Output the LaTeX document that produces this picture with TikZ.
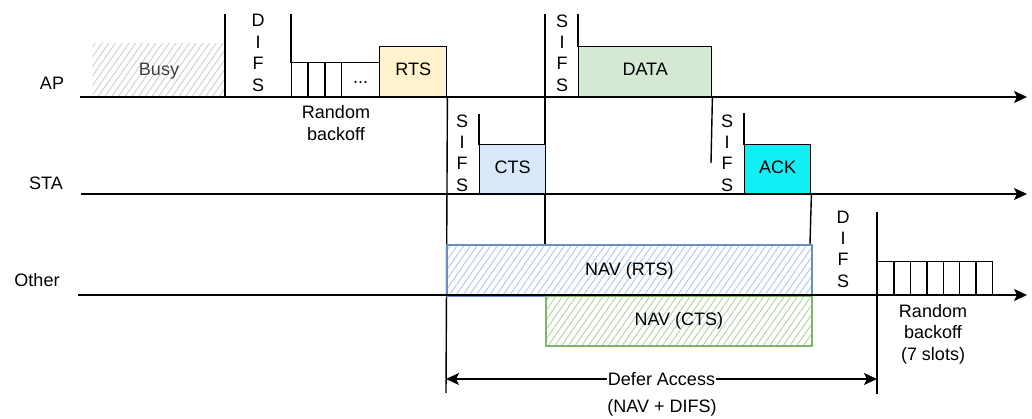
\documentclass[tikz,border=0pt]{standalone}
\usepackage{fontspec}
\setmainfont{Liberation Sans}
\usetikzlibrary{arrows.meta,patterns.meta}

\definecolor{rtsfill}{HTML}{FFF2CC}
\definecolor{ctsfill}{HTML}{DAE8FC}
\definecolor{datafill}{HTML}{D5E8D4}
\definecolor{ackfill}{HTML}{10EEF6}
\definecolor{navblue}{HTML}{6C8EBF}
\definecolor{navgreen}{HTML}{82B366}
\definecolor{hatchblue}{HTML}{B3CCEF}
\definecolor{hatchgreen}{HTML}{B3D6A6}

\begin{document}
\begin{tikzpicture}[
  x=1pt, y=-1pt,
  font=\fontsize{18}{21.4}\selectfont,
  frame/.style={draw, line width=1.4pt, inner sep=0pt, anchor=south west, text height=13pt, text depth=4pt},
  slot/.style={frame, minimum width=16.4pt},
  bound/.style={line width=1.4pt},
  letters/.style={align=center, inner sep=0pt},
  timeline/.style={-{Stealth[length=13pt,width=12pt,inset=3pt]}, line width=1.4pt},
  hatch/.style={pattern={Lines[angle=55,distance=5.5pt,line width=1pt]}},
  nav/.style={draw, line width=1.8pt, inner sep=0pt, anchor=north west, hatch}
]
\useasboundingbox (0,0) rectangle (1032,419);

% station labels
\node (aplabel) at (52,83) {AP};
\node (stalabel) at (46,183) {STA};
\node (otherlabel) at (37,280) {Other};

% AP side
\node[anchor=south west, minimum width=133pt, minimum height=53pt, inner sep=0pt,
  hatch, pattern color=gray!35, text=black!75, text height=13pt, text depth=1pt] (busy) at (92,97) {Busy};
\draw[bound] (225,14) -- (225,97);
\node[letters] (difs1) at (258,53) {D\\I\\F\\S};
\draw[bound] (291,14) -- (291,63);
\foreach \i in {0,1,2}
  \node[slot, minimum height=34pt] (b\i) at ({291+16.7*\i},97) {};
\node[frame, minimum width=38pt, minimum height=34pt] (bdots) at (341,97) {...};
\node[letters] (backoff1) at (336,123) {Random\\backoff};
\node[frame, fill=rtsfill, minimum width=67pt, minimum height=50pt] (rts) at (379,97) {RTS};
\draw[bound] (rts.south east) -- (446,393);

\draw[bound] (545,14) -- (545,244);
\node[letters] (sifs2) at (562,53) {S\\I\\F\\S};
\draw[bound] (578,14) -- (578,47);
\node[frame, fill=datafill, minimum width=133pt, minimum height=50pt] (data) at (578,97) {DATA};
\draw[bound] (data.south east) -- (711,163);

% STA side
\node[letters] (sifs1) at (462,153) {S\\I\\F\\S};
\draw[bound] (479,114) -- (479,145);
\node[frame, fill=ctsfill, minimum width=66pt, minimum height=49pt] (cts) at (479,194) {CTS};
\node[letters] (sifs3) at (727,153) {S\\I\\F\\S};
\draw[bound] (744,113) -- (744,145);
\node[frame, fill=ackfill, minimum width=66pt, minimum height=49pt] (ack) at (744,194) {ACK};
\draw[bound] (ack.south east) -- (810,244);

% other stations
\node[nav, draw=navblue, pattern color=hatchblue, minimum width=365pt, minimum height=51pt] (navrts) at (446,244) {NAV (RTS)};
\node[nav, draw=navgreen, pattern color=hatchgreen, minimum width=266pt, minimum height=50pt] (navcts) at (545,295) {NAV (CTS)};
\node[letters] (difs2) at (843,249) {D\\I\\F\\S};
\draw[bound] (877,212) -- (877,394);
\foreach \i in {0,...,6}
  \node[slot, minimum height=33pt] (s\i) at ({877+16.4*\i},295) {};
\node[letters] (backoff2) at (933,334) {Random\\backoff\\(7 slots)};

% time axes
\coordinate (ap0) at (80,97);
\coordinate (ap1) at (1027,97);
\coordinate (sta0) at (81,194);
\coordinate (sta1) at (1027,194);
\coordinate (oth0) at (78,295);
\coordinate (oth1) at (1027,295);
\draw[timeline] (ap0) -- (ap1);
\draw[timeline] (sta0) -- (sta1);
\draw[timeline] (oth0) -- (oth1);

% defer access
\coordinate (defer0) at (446,379);
\coordinate (defer1) at (877,379);
\draw[{Stealth[length=13pt,width=12pt,inset=3pt]}-{Stealth[length=13pt,width=12pt,inset=3pt]}, line width=1.4pt]
  (defer0) -- node[fill=white, inner sep=1pt] (deferlabel) {Defer Access} (defer1);
\node (navdifs) at (662,408) {(NAV + DIFS)};
\end{tikzpicture}
\end{document}
